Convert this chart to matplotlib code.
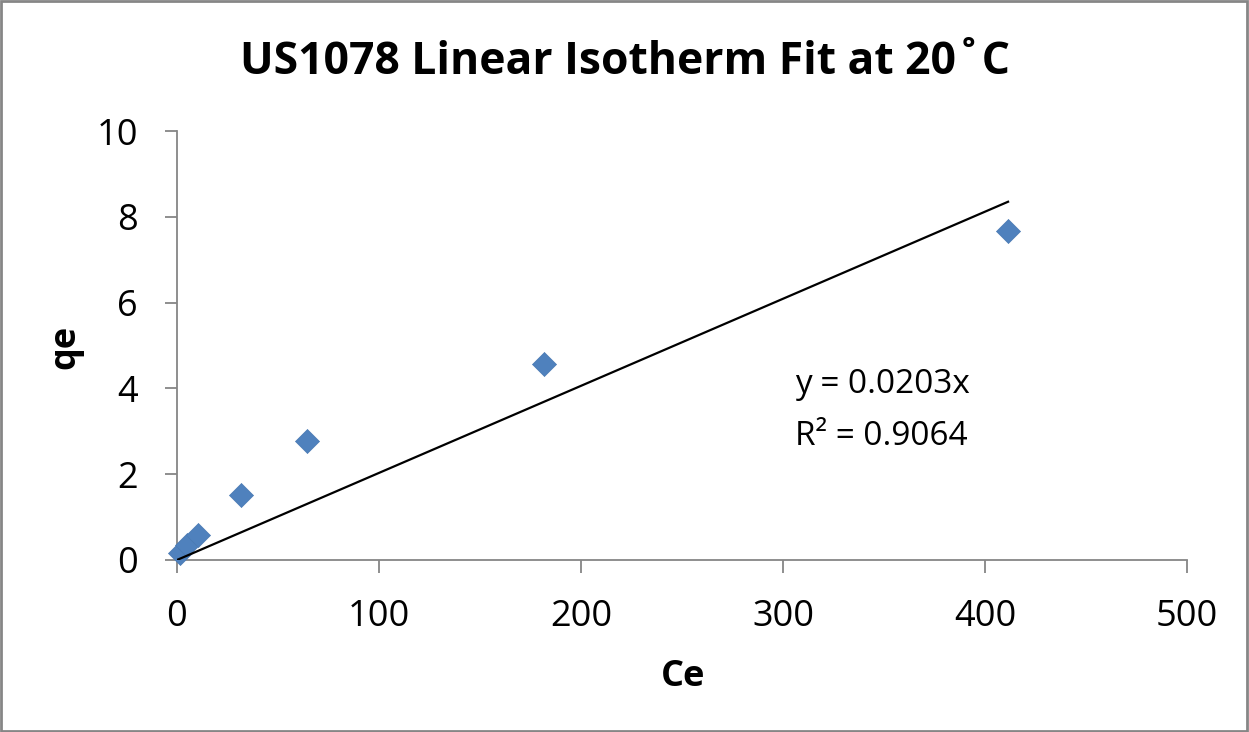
import numpy as np
import matplotlib.pyplot as plt
from matplotlib.patches import Rectangle

plt.rcParams['font.family'] = ['Open Sans', 'DejaVu Sans']

# equilibrium concentration vs. loading
ce = [1.5, 5.0, 10.4, 31.7, 64.4, 181.7, 411.4]
qe = [0.17, 0.35, 0.58, 1.52, 2.77, 4.57, 7.67]
slope = 0.0203
r2 = 0.9064
x_ticks = [0, 100, 200, 300, 400, 500]
y_ticks = [0, 2, 4, 6, 8, 10]

fig = plt.figure(figsize=(12.49, 7.32), dpi=100)
ax = fig.add_axes([0.1417, 0.235, 0.8087, 0.586])

ax.scatter(ce, qe, marker='D', s=150, color='#4f81bd', edgecolors='#4a7ab3',
           linewidths=0.5, zorder=3, clip_on=False)
fit_x = np.array([0, max(ce)])
ax.plot(fit_x, slope * fit_x, color='black', lw=1.6, zorder=4)

ax.set_xlim(0, 500)
ax.set_ylim(0, 10)
ax.set_xticks(x_ticks)
ax.set_yticks(y_ticks)
ax.tick_params(labelsize=26, length=9, width=1.3, color='#868686', pad=19)
for side in ['top', 'right']:
    ax.spines[side].set_visible(False)
for side in ['left', 'bottom']:
    ax.spines[side].set_color('#868686')
    ax.spines[side].set_linewidth(1.3)

fig.text(0.547, 0.075, 'Ce', fontsize=26, fontweight='bold', ha='center', va='center')
fig.text(0.052, 0.526, 'qe', fontsize=26, fontweight='bold', ha='center', va='center',
         rotation=90)
fig.text(0.5, 0.915, 'US1078 Linear Isotherm Fit at 20˚C', fontsize=32,
         fontweight='bold', ha='center', va='center')

ax.text(306, 4.08, f'y = {slope}x', fontsize=24, va='center', ha='left')
ax.text(306, 2.87, f'R² = {r2}', fontsize=24, va='center', ha='left')

fig.patches.append(Rectangle((0.001, 0.002), 0.997, 0.996, transform=fig.transFigure,
                             fill=False, edgecolor='#868686', lw=2))

fig.savefig('out.png', dpi=100)
